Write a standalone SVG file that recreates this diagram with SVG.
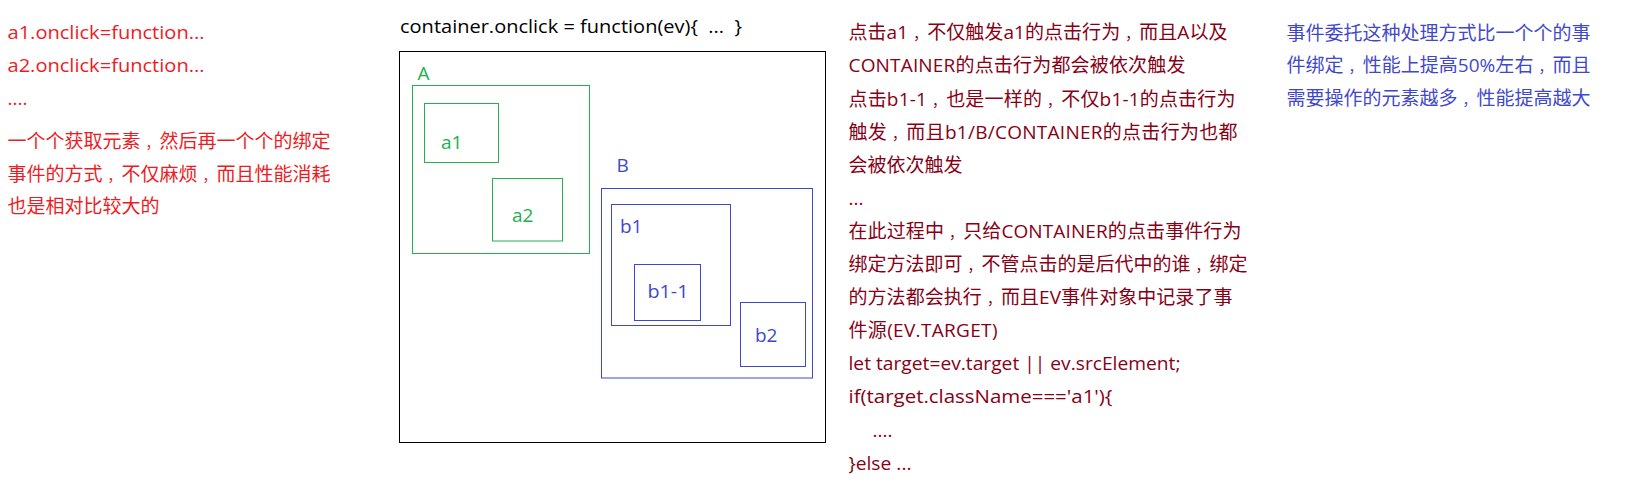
<svg xmlns="http://www.w3.org/2000/svg" width="1625" height="502" viewBox="0 0 1625 502">
<style>
text{font-family:"Open Sans","Noto Sans CJK SC",sans-serif;font-size:19px}
.c{font-size:14px}
.red{fill:#ed1c24}
.dred{fill:#880015}
.blue{fill:#3f48cc}
.green{fill:#22b14c}
.blk{fill:#000}
.box{fill:none;stroke-width:1}
.gbox{stroke:#22b14c}
.bbox{stroke:#3f48cc}
.kbox{stroke:#000}
</style>
<rect width="1625" height="502" fill="#fff"/>
<g id="left-notes">
<text class="red" x="7.5" y="39" textLength="197" lengthAdjust="spacingAndGlyphs">a1.onclick=function...</text>
<text class="red" x="7.5" y="71.5" textLength="197" lengthAdjust="spacingAndGlyphs">a2.onclick=function...</text>
<text class="red" x="7.5" y="104.5">....</text>
<text class="red" x="7.5" y="147.5">一个个获取元素<tspan class="c" dx="5">，</tspan>然后再一个个的绑定</text>
<text class="red" x="7.5" y="180.5">事件的方式<tspan class="c" dx="5">，</tspan>不仅麻烦<tspan class="c" dx="5">，</tspan>而且性能消耗</text>
<text class="red" x="7.5" y="213">也是相对比较大的</text>
</g>
<g id="container-label">
<text class="blk" x="400" y="33.3" textLength="342" lengthAdjust="spacingAndGlyphs" xml:space="preserve">container.onclick = function(ev){  ...  }</text>
</g>
<g id="container">
<rect class="box kbox" x="399.5" y="51.5" width="426" height="391"/>
</g>
<g id="A">
<rect class="box gbox" x="412.5" y="85.5" width="177" height="168"/>
<text class="green" x="417.5" y="80">A</text>
</g>
<g id="a1">
<rect class="box gbox" x="424.5" y="103.5" width="74" height="59"/>
<text class="green" x="441" y="149">a1</text>
</g>
<g id="a2">
<rect class="box gbox" x="492.5" y="178.5" width="70" height="62.5"/>
<text class="green" x="512" y="221.7">a2</text>
</g>
<g id="B">
<rect class="box bbox" x="601.5" y="188.5" width="211" height="189.5"/>
<text class="blue" x="616.5" y="171.7">B</text>
</g>
<g id="b1">
<rect class="box bbox" x="611.5" y="204.5" width="119" height="121"/>
<text class="blue" x="620" y="233.3">b1</text>
</g>
<g id="b1-1">
<rect class="box bbox" x="634.5" y="264.5" width="66" height="56"/>
<text class="blue" x="647.5" y="298.3" textLength="41" lengthAdjust="spacingAndGlyphs">b1-1</text>
</g>
<g id="b2">
<rect class="box bbox" x="740.5" y="302.5" width="65" height="64"/>
<text class="blue" x="755" y="341.7">b2</text>
</g>
<g id="connectors"></g>
<g id="right-notes">
<text class="dred" x="848.5" y="39.3" textLength="379">点击a1<tspan class="c" dx="5">，</tspan>不仅触发a1的点击行为<tspan class="c" dx="5">，</tspan>而且A以及</text>
<text class="dred" x="848.5" y="72.4" textLength="337">CONTAINER的点击行为都会被依次触发</text>
<text class="dred" x="848.5" y="105.5" textLength="387">点击b1-1<tspan class="c" dx="5">，</tspan>也是一样的<tspan class="c" dx="5">，</tspan>不仅b1-1的点击行为</text>
<text class="dred" x="848.5" y="138.6" textLength="389">触发<tspan class="c" dx="5">，</tspan>而且b1/B/CONTAINER的点击行为也都</text>
<text class="dred" x="848.5" y="171.7">会被依次触发</text>
<text class="dred" x="848.5" y="204.8">...</text>
<text class="dred" x="848.5" y="237.9" textLength="393">在此过程中<tspan class="c" dx="5">，</tspan>只给CONTAINER的点击事件行为</text>
<text class="dred" x="848.5" y="271">绑定方法即可<tspan class="c" dx="5">，</tspan>不管点击的是后代中的谁<tspan class="c" dx="5">，</tspan>绑定</text>
<text class="dred" x="848.5" y="304.1" textLength="384">的方法都会执行<tspan class="c" dx="5">，</tspan>而且EV事件对象中记录了事</text>
<text class="dred" x="848.5" y="337.2" textLength="149">件源(EV.TARGET)</text>
<text class="dred" x="848.5" y="370.3" textLength="332" lengthAdjust="spacingAndGlyphs">let target=ev.target || ev.srcElement;</text>
<text class="dred" x="848.5" y="403.4" textLength="264" lengthAdjust="spacingAndGlyphs">if(target.className==='a1'){</text>
<text class="dred" x="872.5" y="436.5">....</text>
<text class="dred" x="848.5" y="469.6" textLength="63" lengthAdjust="spacingAndGlyphs">}else ...</text>
</g>
<g id="blue-notes">
<text class="blue" x="1286.5" y="39.5">事件委托这种处理方式比一个个的事</text>
<text class="blue" x="1286.5" y="72" textLength="304">件绑定<tspan class="c" dx="5">，</tspan>性能上提高50%左右<tspan class="c" dx="5">，</tspan>而且</text>
<text class="blue" x="1286.5" y="104.5">需要操作的元素越多<tspan class="c" dx="5">，</tspan>性能提高越大</text>
</g>
</svg>
